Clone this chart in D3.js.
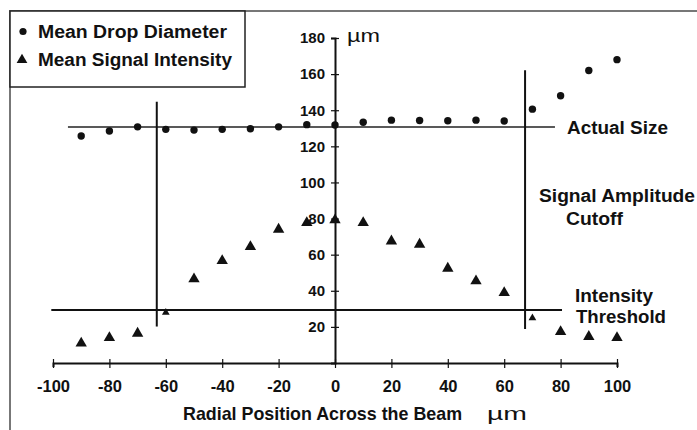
<!DOCTYPE html>
<html>
<head>
<meta charset="utf-8">
<script src="https://cdn.jsdelivr.net/npm/d3@7/dist/d3.min.js"></script>
<style>
  html, body { margin: 0; padding: 0; background: #fff; }
  svg { display: block; font-family: "Liberation Sans", Arial, sans-serif; }
</style>
</head>
<body>
<svg id="chart" width="697" height="430"></svg>
<script>
// ---- data ----
const positions = [-90,-80,-70,-60,-50,-40,-30,-20,-10,0,10,20,30,40,50,60,70,80,90,100];
const dropDiameter = [125.7,128.5,130.8,129.4,129,129.4,129.7,130.8,132,131.8,133.3,134.5,134.3,134.2,134.5,134,140.6,148,162,168];
const signalIntensity = [10.9,14,16.4,28,46.5,56.6,64.4,74,77.7,79.2,77.7,67.5,65.7,52.4,45.4,38.9,24.9,17.3,14.6,14];
const smallMarkers = [-60, 70];
const xTicks = [-100,-80,-60,-40,-20,0,20,40,60,80,100];
const yTicks = [20,40,60,80,100,120,140,160,180];
const actualSize = {value: 130.7, from: -94.7, to: 78};
const threshold = {value: 29.4, from: -100.6, to: 80.5};
const cutoffs = [{x: -63.2, from: 20.2, to: 144.7}, {x: 67.4, from: 18.8, to: 162.2}];

const svg = d3.select("#chart");
const x = d3.scaleLinear().domain([-100, 100]).range([53, 617]);
const y = d3.scaleLinear().domain([0, 180]).range([363, 38]);

// outer frame
svg.append("path").attr("d", "M10,430 L10,11 L697,11")
  .attr("fill", "none").attr("stroke", "#777").attr("stroke-width", 2);

// legend box
svg.append("rect").attr("x", 10).attr("y", 11).attr("width", 235).attr("height", 76)
  .attr("fill", "#fff").attr("stroke", "#222").attr("stroke-width", 1.5);

function label(txt, px, py, size, width, weight) {
  const t = svg.append("text").attr("x", px).attr("y", py)
    .attr("font-size", size).attr("font-weight", weight || "bold")
    .attr("fill", "#111").text(txt);
  if (width) t.attr("textLength", width).attr("lengthAdjust", "spacingAndGlyphs");
  return t;
}

svg.append("circle").attr("cx", 23).attr("cy", 31.5).attr("r", 3.6).attr("fill", "#111");
svg.append("path").attr("d", d3.symbol(d3.symbolTriangle, 50)())
  .attr("transform", "translate(22,60)").attr("fill", "#111");
label("Mean Drop Diameter", 38, 37.5, 17.5, 189);
label("Mean Signal Intensity", 38, 66, 17.5, 194);

// reference lines
svg.append("line")
  .attr("x1", x(actualSize.from)).attr("x2", x(actualSize.to))
  .attr("y1", y(actualSize.value)).attr("y2", y(actualSize.value))
  .attr("stroke", "#222").attr("stroke-width", 1.5);
svg.append("line")
  .attr("x1", x(threshold.from)).attr("x2", x(threshold.to))
  .attr("y1", y(threshold.value)).attr("y2", y(threshold.value))
  .attr("stroke", "#111").attr("stroke-width", 2);
svg.selectAll("line.cut").data(cutoffs).join("line").attr("class", "cut")
  .attr("x1", d => x(d.x)).attr("x2", d => x(d.x))
  .attr("y1", d => y(d.from)).attr("y2", d => y(d.to))
  .attr("stroke", "#111").attr("stroke-width", 2);

// axes
const xAxis = svg.append("g").attr("transform", `translate(0,${y(0)})`)
  .call(d3.axisBottom(x).tickValues(xTicks).tickFormat(d => String(d)).tickSizeOuter(0).tickSize(4));
xAxis.select(".domain").attr("stroke", "#111").attr("stroke-width", 2);
xAxis.selectAll(".tick line").attr("y1", -4).attr("y2", 5).attr("stroke", "#111").attr("stroke-width", 1.2);
xAxis.selectAll(".tick text").attr("y", 29).attr("dy", null)
  .attr("font-size", 16.5).attr("font-weight", "bold").attr("fill", "#111")
  .attr("font-family", '"Liberation Sans", Arial, sans-serif');

const yAxis = svg.append("g").attr("transform", `translate(${x(0)},0)`)
  .call(d3.axisLeft(y).tickValues(yTicks).tickFormat(d => String(d)).tickSizeOuter(0).tickSize(4));
yAxis.select(".domain").attr("stroke", "#111").attr("stroke-width", 2);
yAxis.selectAll(".tick line").attr("x1", -4).attr("x2", 4).attr("stroke", "#111").attr("stroke-width", 1.2);
yAxis.selectAll(".tick text").attr("x", -10)
  .attr("font-size", 15).attr("font-weight", "bold").attr("fill", "#111")
  .attr("font-family", '"Liberation Sans", Arial, sans-serif');

// data marks
const pts = positions.map((p, i) => ({p, d: dropDiameter[i], s: signalIntensity[i]}));
svg.selectAll("circle.dia").data(pts).join("circle").attr("class", "dia")
  .attr("cx", d => x(d.p)).attr("cy", d => y(d.d)).attr("r", 3.7).attr("fill", "#111");
svg.selectAll("path.sig").data(pts).join("path").attr("class", "sig")
  .attr("d", d => d3.symbol(d3.symbolTriangle, smallMarkers.includes(d.p) ? 26 : 56)())
  .attr("transform", d => `translate(${x(d.p)},${y(d.s)})`)
  .attr("fill", "#111");

// annotations
label("\u00b5m", 347, 42, 18, 33, "normal");
label("Actual Size", 567, 134, 17.5, 101);
label("Signal Amplitude", 539, 201.5, 17.5, 156);
label("Cutoff", 566, 225, 17.5, 57);
label("Intensity", 575, 301.5, 17.5, 78);
label("Threshold", 576, 323, 17.5, 90);
label("Radial Position Across the Beam", 183, 420, 19, 279);
label("\u00b5m", 487, 420, 19, 40, "normal");
</script>
</body>
</html>
